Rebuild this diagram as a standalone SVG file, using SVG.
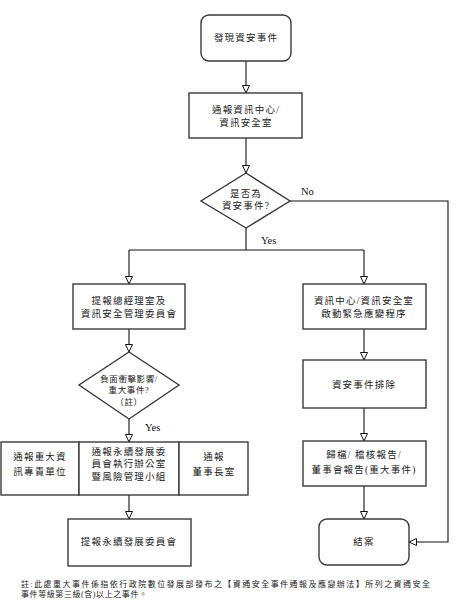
<svg xmlns="http://www.w3.org/2000/svg" width="473" height="611" viewBox="0 0 473 611">
<style>
.box{fill:#fff;stroke:#3a3a3a;stroke-width:1.4}
.t{font-family:"Liberation Serif","Noto Sans CJK TC",serif;font-size:9.5px;fill:#222;text-anchor:middle;letter-spacing:1.2px}
.lbl{font-family:"Liberation Serif",serif;font-size:10.5px;fill:#111}
.note{font-family:"Liberation Serif","Noto Sans CJK TC",serif;font-size:8px;fill:#222}
.c{fill:none;stroke:#111;stroke-width:1.1}
</style>
<defs>
<marker id="ah" markerUnits="userSpaceOnUse" markerWidth="10" markerHeight="10" refX="8" refY="4" orient="auto">
<path d="M0.5,0.5 L8,4 L0.5,7.5 Z" fill="#fff" stroke="#111" stroke-width="1"/>
</marker>
</defs>
<rect width="473" height="611" fill="#fff"/>
<g id="connectors">
<path class="c" d="M246 61 V93" marker-end="url(#ah)"/>
<path class="c" d="M246 138 V173" marker-end="url(#ah)"/>
<path class="c" d="M290 201 H448 V542 H409" marker-end="url(#ah)"/>
<path class="c" d="M246 228 V250 M129 250 H364"/>
<path class="c" d="M129 250 V284" marker-end="url(#ah)"/>
<path class="c" d="M364 250 V284" marker-end="url(#ah)"/>
<path class="c" d="M129 329 V352" marker-end="url(#ah)"/>
<path class="c" d="M129 419 V442" marker-end="url(#ah)"/>
<path class="c" d="M129 495 V519" marker-end="url(#ah)"/>
<path class="c" d="M364 329 V360" marker-end="url(#ah)"/>
<path class="c" d="M364 408 V441" marker-end="url(#ah)"/>
<path class="c" d="M364 486 V519" marker-end="url(#ah)"/>
<text class="lbl" x="301" y="195">No</text>
<text class="lbl" x="261" y="244">Yes</text>
<text class="lbl" x="145" y="431">Yes</text>
</g>
<g id="start">
<rect class="box" x="201" y="15" width="90" height="46" rx="8"/>
<text class="t" x="246" y="41">發現資安事件</text>
</g>
<g id="notify-center">
<rect class="box" x="189" y="93" width="113" height="45"/>
<text class="t" x="246" y="113">通報資訊中心/</text>
<text class="t" x="246" y="126">資訊安全室</text>
</g>
<g id="is-incident">
<polygon class="box" points="246,173 290,201 246,228 201,201"/>
<text class="t" x="246" y="197">是否為</text>
<text class="t" x="246" y="209">資安事件?</text>
</g>
<g id="report-gm">
<rect class="box" x="73" y="284" width="112" height="45"/>
<text class="t" x="129" y="304">提報總經理室及</text>
<text class="t" x="129" y="317">資訊安全管理委員會</text>
</g>
<g id="is-major">
<polygon class="box" points="129,352 179,385 129,419 79,385"/>
<text class="t" x="129" y="382" style="font-size:8.5px;letter-spacing:0.6px">負面衝擊影響/</text>
<text class="t" x="129" y="393" style="font-size:8.5px;letter-spacing:0.6px">重大事件?</text>
<text class="t" x="129" y="405" style="font-size:8.5px;letter-spacing:0.6px">（註）</text>
</g>
<g id="notify-major">
<rect class="box" x="1" y="442" width="78" height="53"/>
<text class="t" x="40" y="460">通報重大資</text>
<text class="t" x="40" y="475">訊專責單位</text>
</g>
<g id="notify-esg">
<rect class="box" x="79" y="442" width="100" height="53"/>
<text class="t" x="129" y="455">通報永續發展委</text>
<text class="t" x="129" y="467">員會執行辦公室</text>
<text class="t" x="129" y="480">暨風險管理小組</text>
</g>
<g id="notify-chair">
<rect class="box" x="179" y="442" width="69" height="53"/>
<text class="t" x="214" y="460">通報</text>
<text class="t" x="214" y="475">董事長室</text>
</g>
<g id="report-esg">
<rect class="box" x="68" y="519" width="123" height="47"/>
<text class="t" x="129" y="545">提報永續發展委員會</text>
</g>
<g id="emergency">
<rect class="box" x="303" y="284" width="123" height="45"/>
<text class="t" x="364" y="304">資訊中心/資訊安全室</text>
<text class="t" x="364" y="317">啟動緊急應變程序</text>
</g>
<g id="resolve">
<rect class="box" x="303" y="360" width="123" height="48"/>
<text class="t" x="364" y="388">資安事件排除</text>
</g>
<g id="archive">
<rect class="box" x="303" y="441" width="123" height="45"/>
<text class="t" x="364" y="458">歸檔/ 稽核報告/</text>
<text class="t" x="364" y="473">董事會報告(重大事件)</text>
</g>
<g id="close">
<rect class="box" x="319" y="519" width="90" height="46" rx="8"/>
<text class="t" x="364" y="545">結案</text>
</g>
<g id="footnote">
<text class="note" x="21" y="587" textLength="409" lengthAdjust="spacing">註:此處重大事件係指依行政院數位發展部發布之【資通安全事件通報及應變辦法】所列之資通安全</text>
<text class="note" x="21" y="597" textLength="126" lengthAdjust="spacing">事件等級第三級(含)以上之事件。</text>
</g>
</svg>
